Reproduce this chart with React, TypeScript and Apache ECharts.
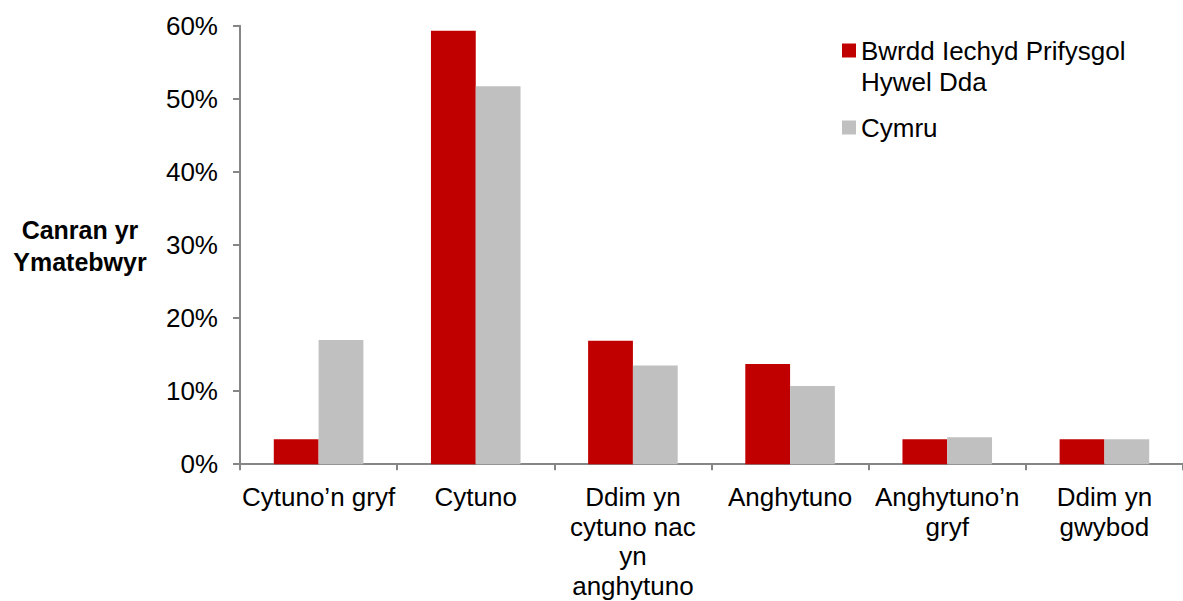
import React, { useEffect, useRef } from "react";
import * as echarts from "echarts";

// Response categories (Welsh survey answers)
const categories = [
  "Cytuno’n gryf",
  "Cytuno",
  "Ddim yn\ncytuno nac\nyn\nanghytuno",
  "Anghytuno",
  "Anghytuno’n\ngryf",
  "Ddim yn\ngwybod",
];

// Percentage of respondents per answer
const hywelDda = [3.4, 59.3, 16.9, 13.7, 3.4, 3.4];
const cymru = [17.0, 51.7, 13.5, 10.7, 3.7, 3.4];

const seriesNames = ["Bwrdd Iechyd Prifysgol\nHywel Dda", "Cymru"];
const yTicks = [0, 10, 20, 30, 40, 50, 60];

const FONT = "Liberation Sans, Arial, sans-serif";
const AXIS_GREY = "#868686";
const FS = 26;

export default function App() {
  const ref = useRef<HTMLDivElement>(null);

  useEffect(() => {
    if (!ref.current) return;
    const chart = echarts.init(ref.current, undefined, { renderer: "svg" });
    chart.setOption({
      animation: false,
      backgroundColor: "#ffffff",
      textStyle: { fontFamily: FONT },
      grid: { left: 240, top: 25.7, width: 951, height: 438.6 },
      legend: {
        orient: "vertical",
        left: 837,
        top: -1,
        icon: "rect",
        itemWidth: 14,
        itemHeight: 14,
        itemGap: 15,
        // a leading blank line centres the marker on the first line of a two-line name
        formatter: (name: string) => (name.includes("\n") ? "\n" + name : name),
        textStyle: {
          fontFamily: FONT,
          fontSize: FS,
          color: "#000",
          lineHeight: 31,
        },
        data: seriesNames,
      },
      xAxis: {
        type: "category",
        data: categories,
        axisLine: { lineStyle: { color: AXIS_GREY, width: 2 } },
        axisTick: { show: true, length: 6, alignWithLabel: false, lineStyle: { color: AXIS_GREY, width: 2 } },
        axisLabel: {
          interval: 0,
          fontFamily: FONT,
          fontSize: FS,
          color: "#000",
          lineHeight: 29.7,
          margin: 18,
        },
      },
      yAxis: {
        type: "value",
        min: yTicks[0],
        max: yTicks[yTicks.length - 1],
        interval: 10,
        splitLine: { show: false },
        axisLine: { show: true, lineStyle: { color: AXIS_GREY, width: 2 } },
        axisTick: { show: true, length: 7, lineStyle: { color: AXIS_GREY, width: 2 } },
        axisLabel: {
          formatter: (v: number) => `${v}%`,
          fontFamily: FONT,
          fontSize: FS,
          color: "#000",
          margin: 22,
        },
      },
      graphic: [
        {
          type: "text",
          x: 80,
          y: 246,
          style: {
            text: "Canran yr\nYmatebwyr",
            fontFamily: FONT,
            fontSize: 25,
            fontWeight: "bold",
            fill: "#000",
            lineHeight: 32,
            align: "center",
            verticalAlign: "middle",
          },
        },
      ],
      series: [
        {
          name: seriesNames[0],
          type: "bar",
          data: hywelDda,
          itemStyle: { color: "#c00000" },
          barGap: "0%",
          barCategoryGap: "43%",
        },
        {
          name: seriesNames[1],
          type: "bar",
          data: cymru,
          itemStyle: { color: "#c0c0c0" },
          barGap: "0%",
          barCategoryGap: "43%",
        },
      ],
    });
    return () => chart.dispose();
  }, []);

  return (
    <div
      ref={ref}
      style={{ position: "absolute", left: 0, top: 0, width: 1183, height: 601, overflow: "hidden" }}
    />
  );
}
